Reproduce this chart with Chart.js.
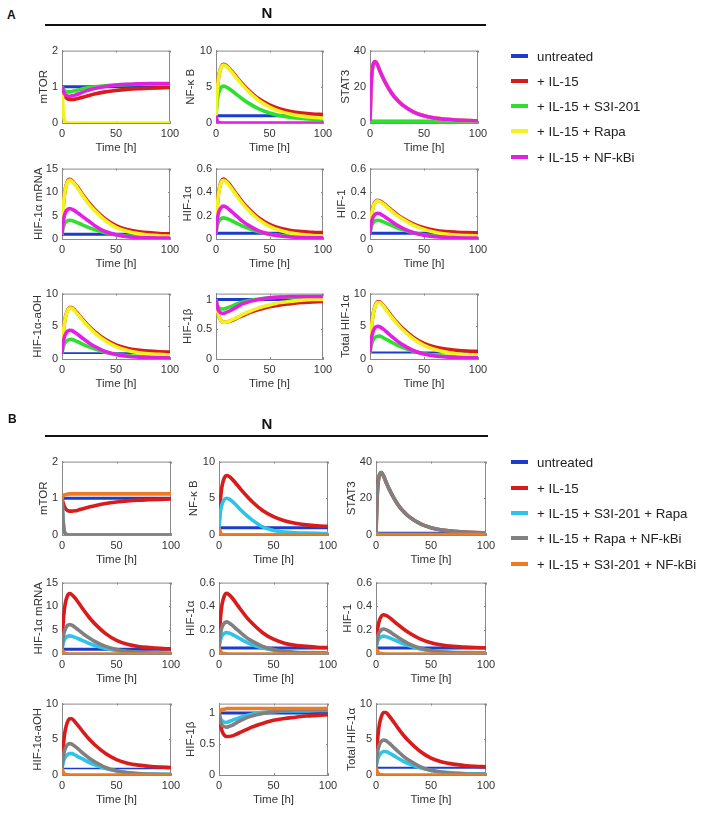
<!DOCTYPE html>
<html><head><meta charset="utf-8">
<script src="https://cdn.jsdelivr.net/npm/chart.js@4.4.0/dist/chart.umd.min.js"></script>
<style>
html,body{margin:0;padding:0;background:#fff}
body{width:708px;height:813px;position:relative;overflow:hidden;font-family:"Liberation Sans",Arial,sans-serif;color:#222}
.abs{position:absolute}
.panel{font-weight:bold;font-size:12px;color:#111}
.ttl{font-weight:bold;font-size:15px;color:#111;transform:translate(-50%,-50%)}
.rule{height:1.5px;background:#111}
.leg{font-size:13.3px;color:#222;white-space:nowrap;transform:translateY(-50%)}
.sw{position:absolute;width:17px;height:4px;transform:translateY(-50%)}
</style></head><body>
<script>
// ---------- data ----------
const T = [0,1,2,3,5,7,9,12,15,20,25,30,40,50,60,70,80,90,100];
const X_TICKS = [0,50,100];
const TICKS_mTOR = [0,1,2], TICKS_NFkB = [0,5,10], TICKS_STAT3 = [0,20,40], TICKS_mRNA = [0,5,10,15];
const TICKS_HIF = [0,0.2,0.4,0.6], TICKS_aOH = [0,5,10], TICKS_HIF1b = [0,0.5,1], TICKS_Total = [0,5,10];
const LABELS_A = ['untreated','+ IL-15','+ IL-15 + S3I-201','+ IL-15 + Rapa','+ IL-15 + NF-kBi'];
const LABELS_B = ['untreated','+ IL-15','+ IL-15 + S3I-201 + Rapa','+ IL-15 + Rapa + NF-kBi','+ IL-15 + S3I-201 + NF-kBi'];
const YLABELS = ['mTOR','NF-\u03BA B','STAT3','HIF-1\u03B1 mRNA','HIF-1\u03B1','HIF-1','HIF-1\u03B1-aOH','HIF-1\u03B2','Total HIF-1\u03B1'];

// Panel A
const A_mTOR_untreated = [1,1,1,1,1,1,1,1,1,1,1,1,1,1,1,1,1,1,1];
const A_mTOR_IL15 = [1,0.88,0.79,0.73,0.67,0.65,0.65,0.66,0.68,0.72,0.76,0.8,0.86,0.9,0.93,0.95,0.96,0.97,0.98];
const A_mTOR_S3I = [1,0.95,0.91,0.88,0.86,0.86,0.87,0.89,0.91,0.95,0.98,1.0,1.03,1.05,1.06,1.07,1.07,1.07,1.07];
const A_mTOR_Rapa = [1,0.4,0.12,0.04,0.01,0,0,0,0,0,0,0,0,0,0,0,0,0,0];
const A_mTOR_NFkBi = [1,0.9,0.82,0.78,0.75,0.74,0.75,0.77,0.8,0.86,0.91,0.95,1.01,1.05,1.07,1.08,1.09,1.09,1.09];

const A_NFkB_untreated = [1,1,1,1,1,1,1,1,1,1,1,1,1,1,1,1,1,1,1];
const A_NFkB_IL15 = [1,4.2,5.83,6.82,7.82,8.1,8.0,7.61,7.12,6.21,5.37,4.6,3.34,2.5,1.94,1.59,1.38,1.24,1.17];
const A_NFkB_S3I = [1,2.85,3.8,4.36,4.95,5.1,5.03,4.77,4.45,3.84,3.29,2.78,1.94,1.38,1.01,0.78,0.64,0.54,0.5];
const A_NFkB_Rapa = [1,4.1,5.75,6.75,7.75,8.0,7.9,7.5,7.0,6.05,5.2,4.4,3.1,2.2,1.6,1.2,0.95,0.8,0.7];
const A_NFkB_NFkBi = [1,0.35,0.12,0.04,0.01,0,0,0,0,0,0,0,0,0,0,0,0,0,0];

const A_STAT3_untreated = [1,1,1,1,1,1,1,1,1,1,1,1,1,1,1,1,1,1,1];
const A_STAT3_IL15 = [1,20,29,32.5,34,32,29,25,21.5,16.5,12.8,10,6.2,4.0,2.7,2.0,1.6,1.35,1.2];
const A_STAT3_S3I = [1,0.95,0.9,0.87,0.85,0.83,0.82,0.81,0.8,0.8,0.8,0.8,0.8,0.8,0.8,0.8,0.8,0.8,0.8];
const A_STAT3_Rapa = [1,20,29,32.5,34,32,29,25,21.5,16.5,12.8,10,6.2,4.0,2.7,2.0,1.6,1.35,1.2];
const A_STAT3_NFkBi = [1,20,29,32.5,34,32,29,25,21.5,16.5,12.8,10,6.2,4.0,2.7,2.0,1.6,1.35,1.2];

const A_mRNA_untreated = [1,1,1,1,1,1,1,1,1,1,1,1,1,1,1,1,1,1,1];
const A_mRNA_IL15 = [1,6.27,8.96,10.59,12.23,12.7,12.47,11.76,10.83,9.19,7.67,6.38,4.28,2.87,2.05,1.59,1.35,1.18,1.09];
const A_mRNA_S3I = [1,2.35,3.04,3.46,3.88,4.0,3.93,3.7,3.41,2.89,2.41,2.0,1.34,0.89,0.63,0.49,0.41,0.36,0.33];
const A_mRNA_Rapa = [1,6.2,8.9,10.5,12.1,12.55,12.3,11.6,10.6,8.95,7.4,6.1,3.95,2.5,1.65,1.15,0.85,0.7,0.6];
const A_mRNA_NFkBi = [1,3.48,4.74,5.51,6.28,6.5,6.37,5.99,5.48,4.6,3.77,2.9,1.6,0.9,0.5,0.32,0.24,0.2,0.18];

const A_HIF1a_untreated = [0.05,0.05,0.05,0.05,0.05,0.05,0.05,0.05,0.05,0.05,0.05,0.05,0.05,0.05,0.05,0.05,0.05,0.05,0.05];
const A_HIF1a_IL15 = [0.05,0.257,0.363,0.427,0.492,0.51,0.5,0.473,0.436,0.372,0.312,0.262,0.179,0.124,0.091,0.073,0.064,0.057,0.054];
const A_HIF1a_S3I = [0.05,0.109,0.138,0.157,0.175,0.18,0.177,0.167,0.154,0.131,0.109,0.091,0.061,0.041,0.03,0.023,0.02,0.017,0.016];
const A_HIF1a_Rapa = [0.05,0.25,0.355,0.42,0.485,0.5,0.49,0.462,0.424,0.36,0.3,0.25,0.165,0.108,0.072,0.05,0.037,0.03,0.025];
const A_HIF1a_NFkBi = [0.05,0.154,0.206,0.239,0.271,0.28,0.275,0.255,0.23,0.19,0.15,0.118,0.07,0.04,0.025,0.017,0.013,0.011,0.01];

const A_HIF1_untreated = [0.05,0.05,0.05,0.05,0.05,0.05,0.05,0.05,0.05,0.05,0.05,0.05,0.05,0.05,0.05,0.05,0.05,0.05,0.05];
const A_HIF1_IL15 = [0.05,0.176,0.24,0.28,0.319,0.33,0.324,0.308,0.285,0.246,0.21,0.179,0.128,0.095,0.075,0.064,0.058,0.054,0.052];
const A_HIF1_S3I = [0.05,0.1,0.125,0.14,0.156,0.16,0.157,0.148,0.136,0.116,0.096,0.08,0.053,0.036,0.025,0.019,0.016,0.014,0.013];
const A_HIF1_Rapa = [0.05,0.172,0.235,0.275,0.313,0.325,0.318,0.3,0.278,0.238,0.2,0.17,0.118,0.082,0.058,0.043,0.034,0.029,0.025];
const A_HIF1_NFkBi = [0.05,0.127,0.166,0.189,0.213,0.22,0.216,0.2,0.181,0.149,0.118,0.093,0.055,0.032,0.02,0.014,0.011,0.009,0.008];

const A_aOH_untreated = [0.9,0.9,0.9,0.9,0.9,0.9,0.9,0.9,0.9,0.9,0.9,0.9,0.9,0.9,0.9,0.9,0.9,0.9,0.9];
const A_aOH_IL15 = [0.9,3.7,5.25,6.3,7.4,7.87,7.88,7.42,6.87,5.9,5.0,4.24,3.0,2.14,1.66,1.38,1.21,1.11,1.06];
const A_aOH_S3I = [0.9,1.75,2.2,2.52,2.85,2.99,3.0,2.81,2.6,2.2,1.85,1.55,1.05,0.72,0.52,0.4,0.33,0.29,0.27];
const A_aOH_Rapa = [0.9,3.65,5.18,6.22,7.32,7.78,7.78,7.3,6.75,5.75,4.85,4.05,2.8,1.9,1.35,1.0,0.8,0.7,0.62];
const A_aOH_NFkBi = [0.9,2.45,3.22,3.73,4.25,4.4,4.35,4.05,3.7,3.05,2.45,1.95,1.15,0.68,0.42,0.29,0.22,0.18,0.16];

const A_HIF1b_untreated = [1,1,1,1,1,1,1,1,1,1,1,1,1,1,1,1,1,1,1];
const A_HIF1b_IL15 = [1,0.86,0.76,0.7,0.64,0.62,0.62,0.63,0.65,0.69,0.73,0.77,0.83,0.88,0.91,0.93,0.95,0.96,0.97];
const A_HIF1b_S3I = [1,0.93,0.88,0.86,0.84,0.84,0.85,0.87,0.89,0.93,0.96,0.98,1.01,1.03,1.04,1.04,1.05,1.05,1.05];
const A_HIF1b_Rapa = [1,0.86,0.76,0.7,0.64,0.62,0.62,0.63,0.66,0.7,0.75,0.79,0.86,0.91,0.95,0.97,0.99,1.0,1.0];
const A_HIF1b_NFkBi = [1,0.9,0.83,0.8,0.77,0.77,0.78,0.8,0.83,0.88,0.93,0.96,1.0,1.03,1.04,1.05,1.05,1.05,1.05];

const A_Total_untreated = [1,1,1,1,1,1,1,1,1,1,1,1,1,1,1,1,1,1,1];
const A_Total_IL15 = [1,4.12,5.84,7.0,8.25,8.76,8.76,8.26,7.65,6.57,5.57,4.72,3.33,2.37,1.83,1.52,1.34,1.22,1.16];
const A_Total_S3I = [1,2.0,2.55,2.92,3.33,3.49,3.5,3.28,3.02,2.56,2.14,1.78,1.19,0.8,0.56,0.42,0.34,0.3,0.27];
const A_Total_Rapa = [1,4.05,5.75,6.9,8.15,8.65,8.65,8.15,7.5,6.4,5.4,4.5,3.1,2.1,1.45,1.05,0.8,0.68,0.6];
const A_Total_NFkBi = [1,2.8,3.7,4.28,4.85,5.0,4.93,4.6,4.2,3.45,2.78,2.2,1.3,0.76,0.47,0.32,0.24,0.19,0.17];

// Panel B
const B_mTOR_S3I_Rapa = [1,0.42,0.13,0.04,0.01,0,0,0,0,0,0,0,0,0,0,0,0,0,0];
const B_mTOR_Rapa_NFkBi = [1,0.4,0.12,0.04,0.01,0,0,0,0,0,0,0,0,0,0,0,0,0,0];
const B_mTOR_S3I_NFkBi = [1,1.06,1.09,1.1,1.11,1.12,1.12,1.12,1.12,1.12,1.12,1.12,1.12,1.12,1.12,1.12,1.12,1.12,1.12];

const B_NFkB_S3I_Rapa = [1,2.8,3.72,4.28,4.85,5.0,4.92,4.6,4.2,3.4,2.7,2.1,1.1,0.62,0.4,0.3,0.25,0.22,0.2];
const B_NFkB_Rapa_NFkBi = [1,0.35,0.1,0.03,0.01,0,0,0,0,0,0,0,0,0,0,0,0,0,0];
const B_NFkB_S3I_NFkBi = [1,0.35,0.1,0.03,0.01,0,0,0,0,0,0,0,0,0,0,0,0,0,0];

const B_STAT3_S3I_Rapa = [1,0.6,0.4,0.3,0.25,0.2,0.2,0.2,0.2,0.2,0.2,0.2,0.2,0.2,0.2,0.2,0.2,0.2,0.2];
const B_STAT3_Rapa_NFkBi = [1,20,29,32.5,34,32,29,25,21.5,16.5,12.8,10,6.2,4.0,2.7,2.0,1.6,1.35,1.2];
const B_STAT3_S3I_NFkBi = [1,0.5,0.3,0.22,0.2,0.2,0.2,0.2,0.2,0.2,0.2,0.2,0.2,0.2,0.2,0.2,0.2,0.2,0.2];

const B_mRNA_S3I_Rapa = [1,2.26,2.9,3.3,3.69,3.8,3.73,3.5,3.2,2.7,2.2,1.8,1.15,0.72,0.45,0.3,0.22,0.18,0.16];
const B_mRNA_Rapa_NFkBi = [1,3.34,4.54,5.26,5.99,6.2,6.05,5.6,5.05,4.15,3.35,2.65,1.6,0.95,0.55,0.33,0.21,0.15,0.12];
const B_mRNA_S3I_NFkBi = [1,0.5,0.22,0.1,0.03,0.01,0,0,0,0,0,0,0,0,0,0,0,0,0];

const B_HIF1a_S3I_Rapa = [0.05,0.109,0.138,0.157,0.175,0.18,0.176,0.165,0.15,0.125,0.1,0.08,0.05,0.032,0.021,0.015,0.012,0.011,0.01];
const B_HIF1a_Rapa_NFkBi = [0.05,0.149,0.2,0.23,0.261,0.27,0.263,0.242,0.218,0.178,0.14,0.11,0.064,0.037,0.022,0.013,0.009,0.007,0.006];
const B_HIF1a_S3I_NFkBi = [0.05,0.03,0.015,0.008,0.003,0.001,0,0,0,0,0,0,0,0,0,0,0,0,0];

const B_HIF1_S3I_Rapa = [0.05,0.095,0.118,0.132,0.146,0.15,0.146,0.137,0.125,0.105,0.085,0.068,0.043,0.028,0.019,0.014,0.012,0.011,0.01];
const B_HIF1_Rapa_NFkBi = [0.05,0.122,0.159,0.181,0.204,0.21,0.205,0.19,0.171,0.14,0.11,0.086,0.05,0.029,0.017,0.011,0.008,0.006,0.005];
const B_HIF1_S3I_NFkBi = [0.05,0.03,0.015,0.008,0.003,0.001,0,0,0,0,0,0,0,0,0,0,0,0,0];

const B_aOH_S3I_Rapa = [0.9,1.75,2.2,2.52,2.85,2.99,3.0,2.8,2.55,2.15,1.75,1.42,0.9,0.55,0.33,0.2,0.14,0.12,0.1];
const B_aOH_Rapa_NFkBi = [0.9,2.4,3.2,3.7,4.25,4.4,4.33,4.0,3.62,2.95,2.35,1.85,1.05,0.58,0.32,0.18,0.11,0.08,0.06];
const B_aOH_S3I_NFkBi = [0.9,0.45,0.2,0.09,0.03,0.01,0,0,0,0,0,0,0,0,0,0,0,0,0];

const B_HIF1b_S3I_Rapa = [1,0.93,0.89,0.87,0.85,0.85,0.86,0.88,0.9,0.93,0.96,0.98,1.01,1.02,1.03,1.03,1.03,1.04,1.04];
const B_HIF1b_Rapa_NFkBi = [1,0.9,0.83,0.8,0.78,0.77,0.78,0.8,0.83,0.88,0.92,0.95,0.99,1.02,1.04,1.05,1.05,1.05,1.05];
const B_HIF1b_S3I_NFkBi = [1,1.03,1.05,1.06,1.06,1.07,1.07,1.07,1.07,1.07,1.07,1.07,1.07,1.07,1.07,1.07,1.07,1.07,1.07];

const B_Total_S3I_Rapa = [1,1.92,2.43,2.77,3.14,3.29,3.3,3.08,2.82,2.35,1.92,1.56,1.0,0.64,0.42,0.3,0.22,0.18,0.16];
const B_Total_Rapa_NFkBi = [1,2.75,3.65,4.2,4.75,4.9,4.82,4.45,4.03,3.3,2.62,2.05,1.18,0.66,0.38,0.22,0.15,0.11,0.09];
const B_Total_S3I_NFkBi = [1,0.5,0.22,0.1,0.03,0.01,0,0,0,0,0,0,0,0,0,0,0,0,0];

// ---------- styles / layout ----------
const C_BLUE='#1c3ccc', C_RED='#d81c1c', C_GREEN='#2ee02e', C_YELLOW='#f2f21c', C_MAG='#e41fe4',
      C_CYAN='#2ec4ea', C_GRAY='#808080', C_ORANGE='#f07a22';
const COLORS_A=[C_BLUE,C_RED,C_GREEN,C_YELLOW,C_MAG];
const COLORS_B=[C_BLUE,C_RED,C_CYAN,C_GRAY,C_ORANGE];
const BOX='#8a8a8a', TXT='#333';
const COLS_A=[[62,108],[216,107],[370,108]], ROWS_A=[[50,73],[168,71],[293,66]];
const COLS_B=[[62,109],[219,109],[376,110]], ROWS_B=[[461,74],[582,72],[703,72]];

Chart.defaults.font.family = "'Liberation Sans', Arial, sans-serif";
Chart.defaults.color = TXT;

const boxPlugin = { id:'box', beforeDatasetsDraw(chart){
  const {ctx, chartArea:a, scales:{x,y}} = chart;
  ctx.save(); ctx.strokeStyle=BOX; ctx.lineWidth=1; ctx.beginPath();
  ctx.moveTo(a.left, a.top+0.5); ctx.lineTo(a.right, a.top+0.5);
  ctx.moveTo(a.right-0.5, a.top); ctx.lineTo(a.right-0.5, a.bottom);
  x.ticks.forEach(t=>{const p=Math.round(x.getPixelForValue(t.value))+0.5; ctx.moveTo(p,a.bottom); ctx.lineTo(p,a.bottom-2); ctx.moveTo(p,a.top); ctx.lineTo(p,a.top+2);});
  y.ticks.forEach(t=>{const p=Math.round(y.getPixelForValue(t.value))+0.5; ctx.moveTo(a.left,p); ctx.lineTo(a.left+2,p); ctx.moveTo(a.right,p); ctx.lineTo(a.right-2,p);});
  ctx.stroke(); ctx.restore();
}};

function makePlot(col,row,label,gap,ymax,ticks,series,colors,blueW){
  const [L,W]=col,[TP,H]=row;
  const c=document.createElement('canvas');
  const cw=W+66, ch=H+52;
  c.width=cw; c.height=ch;
  c.style.cssText=`position:absolute;left:${L-50}px;top:${TP-10}px;width:${cw}px;height:${ch}px`;
  document.body.appendChild(c);
  new Chart(c,{type:'line',
    data:{datasets:series.map((s,i)=>({data:T.map((t,k)=>({x:t,y:s[k]})),borderColor:colors[i],
      borderWidth:i===0?blueW:3.6,pointRadius:0,cubicInterpolationMode:'monotone',fill:false,order:10-i}))},
    options:{responsive:false,animation:false,devicePixelRatio:1,
      layout:{padding:{left:0,top:10,right:16,bottom:0}},
      plugins:{legend:{display:false},tooltip:{enabled:false}},
      scales:{
        x:{type:'linear',min:0,max:100,
          afterBuildTicks:s=>{s.ticks=X_TICKS.map(v=>({value:v}));},
          afterFit:s=>{s.height=42;},
          grid:{display:false,drawTicks:false},border:{display:true,color:BOX,width:1},
          ticks:{padding:4,font:{size:11},color:TXT,maxRotation:0,autoSkip:false,callback:v=>String(v)},
          title:{display:true,text:'Time [h]',font:{size:11.5},color:TXT,padding:{top:0,bottom:10}}},
        y:{type:'linear',min:0,max:ymax,
          afterBuildTicks:s=>{s.ticks=ticks.map(v=>({value:v}));},
          afterFit:s=>{s.width=50;},
          grid:{display:false,drawTicks:false},border:{display:true,color:BOX,width:1},
          ticks:{padding:4,font:{size:11},color:TXT,autoSkip:false,callback:v=>String(v)},
          title:{display:true,text:label,font:{size:11.5},color:TXT,padding:{top:43-gap,bottom:0}}}
      }},
    plugins:[boxPlugin]});
}

// Panel A plots
makePlot(COLS_A[0],ROWS_A[0],YLABELS[0],18,2,TICKS_mTOR,[A_mTOR_untreated,A_mTOR_IL15,A_mTOR_S3I,A_mTOR_Rapa,A_mTOR_NFkBi],COLORS_A,3);
makePlot(COLS_A[1],ROWS_A[0],YLABELS[1],25,10,TICKS_NFkB,[A_NFkB_untreated,A_NFkB_IL15,A_NFkB_S3I,A_NFkB_Rapa,A_NFkB_NFkBi],COLORS_A,3);
makePlot(COLS_A[2],ROWS_A[0],YLABELS[2],24,40,TICKS_STAT3,[A_STAT3_untreated,A_STAT3_IL15,A_STAT3_S3I,A_STAT3_Rapa,A_STAT3_NFkBi],COLORS_A,3);
makePlot(COLS_A[0],ROWS_A[1],YLABELS[3],23,15,TICKS_mRNA,[A_mRNA_untreated,A_mRNA_IL15,A_mRNA_S3I,A_mRNA_Rapa,A_mRNA_NFkBi],COLORS_A,3);
makePlot(COLS_A[1],ROWS_A[1],YLABELS[4],28,0.6,TICKS_HIF,[A_HIF1a_untreated,A_HIF1a_IL15,A_HIF1a_S3I,A_HIF1a_Rapa,A_HIF1a_NFkBi],COLORS_A,3);
makePlot(COLS_A[2],ROWS_A[1],YLABELS[5],28,0.6,TICKS_HIF,[A_HIF1_untreated,A_HIF1_IL15,A_HIF1_S3I,A_HIF1_Rapa,A_HIF1_NFkBi],COLORS_A,3);
makePlot(COLS_A[0],ROWS_A[2],YLABELS[6],24,10,TICKS_aOH,[A_aOH_untreated,A_aOH_IL15,A_aOH_S3I,A_aOH_Rapa,A_aOH_NFkBi],COLORS_A,1.6);
makePlot(COLS_A[1],ROWS_A[2],YLABELS[7],28,1.1,TICKS_HIF1b,[A_HIF1b_untreated,A_HIF1b_IL15,A_HIF1b_S3I,A_HIF1b_Rapa,A_HIF1b_NFkBi],COLORS_A,3);
makePlot(COLS_A[2],ROWS_A[2],YLABELS[8],24,10,TICKS_Total,[A_Total_untreated,A_Total_IL15,A_Total_S3I,A_Total_Rapa,A_Total_NFkBi],COLORS_A,2);

// Panel B plots
makePlot(COLS_B[0],ROWS_B[0],YLABELS[0],18,2,TICKS_mTOR,[A_mTOR_untreated,A_mTOR_IL15,B_mTOR_S3I_Rapa,B_mTOR_Rapa_NFkBi,B_mTOR_S3I_NFkBi],COLORS_B,3);
makePlot(COLS_B[1],ROWS_B[0],YLABELS[1],25,10,TICKS_NFkB,[A_NFkB_untreated,A_NFkB_IL15,B_NFkB_S3I_Rapa,B_NFkB_Rapa_NFkBi,B_NFkB_S3I_NFkBi],COLORS_B,3);
makePlot(COLS_B[2],ROWS_B[0],YLABELS[2],24,40,TICKS_STAT3,[A_STAT3_untreated,A_STAT3_IL15,B_STAT3_S3I_Rapa,B_STAT3_Rapa_NFkBi,B_STAT3_S3I_NFkBi],COLORS_B,3);
makePlot(COLS_B[0],ROWS_B[1],YLABELS[3],23,15,TICKS_mRNA,[A_mRNA_untreated,A_mRNA_IL15,B_mRNA_S3I_Rapa,B_mRNA_Rapa_NFkBi,B_mRNA_S3I_NFkBi],COLORS_B,3);
makePlot(COLS_B[1],ROWS_B[1],YLABELS[4],28,0.6,TICKS_HIF,[A_HIF1a_untreated,A_HIF1a_IL15,B_HIF1a_S3I_Rapa,B_HIF1a_Rapa_NFkBi,B_HIF1a_S3I_NFkBi],COLORS_B,3);
makePlot(COLS_B[2],ROWS_B[1],YLABELS[5],28,0.6,TICKS_HIF,[A_HIF1_untreated,A_HIF1_IL15,B_HIF1_S3I_Rapa,B_HIF1_Rapa_NFkBi,B_HIF1_S3I_NFkBi],COLORS_B,3);
makePlot(COLS_B[0],ROWS_B[2],YLABELS[6],24,10,TICKS_aOH,[A_aOH_untreated,A_aOH_IL15,B_aOH_S3I_Rapa,B_aOH_Rapa_NFkBi,B_aOH_S3I_NFkBi],COLORS_B,1.6);
makePlot(COLS_B[1],ROWS_B[2],YLABELS[7],28,1.15,TICKS_HIF1b,[A_HIF1b_untreated,A_HIF1b_IL15,B_HIF1b_S3I_Rapa,B_HIF1b_Rapa_NFkBi,B_HIF1b_S3I_NFkBi],COLORS_B,3);
makePlot(COLS_B[2],ROWS_B[2],YLABELS[8],24,10,TICKS_Total,[A_Total_untreated,A_Total_IL15,B_Total_S3I_Rapa,B_Total_Rapa_NFkBi,B_Total_S3I_NFkBi],COLORS_B,2);

// ---------- titles, rules, legends ----------
function addDiv(cls,css,text){const d=document.createElement('div');d.className='abs '+cls;d.style.cssText=css;if(text!==undefined)d.textContent=text;document.body.appendChild(d);return d;}
addDiv('panel','left:7px;top:8px','A');
addDiv('ttl','left:267px;top:12px','N');
addDiv('rule','left:45px;top:24px;width:441px');
addDiv('panel','left:8px;top:412px','B');
addDiv('ttl','left:267px;top:423px','N');
addDiv('rule','left:45px;top:435px;width:443px');
function legend(labels,colors,ys){
  labels.forEach((lab,i)=>{
    addDiv('sw',`left:511px;top:${ys[i]}px;background:${colors[i]}`);
    addDiv('leg',`left:537px;top:${ys[i]}px`,lab);
  });
}
legend(LABELS_A,COLORS_A,[56,81,106,131,157]);
legend(LABELS_B,COLORS_B,[462,488,513,538,564]);
</script>
</body></html>
